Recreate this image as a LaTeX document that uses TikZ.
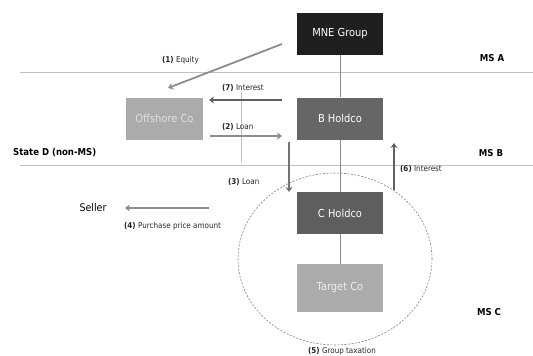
\documentclass[tikz,border=0pt]{standalone}
\usepackage{fontspec}
\setmainfont{DejaVu Sans Condensed}
\usetikzlibrary{arrows.meta,shapes.geometric}

\tikzset{
  entity/.style={minimum width=86pt, minimum height=42pt, inner sep=0pt, font=\fontsize{11}{13}\selectfont},
  flow/.style={-{Stealth[length=5pt,width=7pt,inset=1.5pt]}, line width=1.8pt},
  tag/.style={font=\fontsize{8}{9}\selectfont, text=black!85, inner sep=0pt},
  msname/.style={font=\bfseries\fontsize{9.5}{11}\selectfont, inner sep=0pt},
  border/.style={draw=black!25, line width=0.7pt},
  link/.style={draw=black!45, line width=0.7pt},
}

\begin{document}
\begin{tikzpicture}[x=1pt,y=-1pt]

\useasboundingbox (0,0) rectangle (533,356);

% borders between the states
\draw[border] (20,72) -- (533,72);
\draw[border] (20,165) -- (533,165);
\draw[border] (241,92) -- (241,162);

\node[msname] (msa) at (492,58) {MS A};
\node[msname] (msb) at (491,153) {MS B};
\node[msname] (msc) at (489,312) {MS C};
\node[msname, anchor=west] (stated) at (13,153) {State D (non-MS)};

% group taxation
\node[draw=black!50, dash pattern=on 2pt off 1.5pt, line width=0.6pt, ellipse, minimum width=194pt, minimum height=172pt] (grp) at (335,259) {};

% entities
\node[entity, fill=black!88, text=white] (mne) at (340,34) {MNE Group};
\node[entity, fill=black!60, text=white] (bhold) at (340,118.5) {B Holdco};
\node[entity, fill=black!33, text=black!12, minimum width=77pt] (off) at (164.5,118.5) {Offshore Co};
\node[entity, fill=black!63, text=white] (chold) at (340,213) {C Holdco};
\node[entity, fill=black!33, text=black!7, minimum height=48pt] (target) at (340,288) {Target Co};
\node[font=\fontsize{10.5}{12}\selectfont] (seller) at (93,208) {Seller};

\draw[link] (mne) -- (bhold);
\draw[link] (bhold) -- (chold);
\draw[link] (chold) -- (target);

% flows
\coordinate (eqa) at (282,44);
\coordinate (eqb) at (168,88);
\coordinate (inta) at (282,100);
\coordinate (intb) at (209,100);
\coordinate (loana) at (210,136);
\coordinate (loanb) at (282,136);
\coordinate (loanc) at (289,142);
\coordinate (loand) at (289,192);
\coordinate (intc) at (394,190);
\coordinate (intd) at (394,143);
\coordinate (paya) at (209,208);
\coordinate (payb) at (125,208);

\draw[flow, draw=black!45] (eqa) -- (eqb);
\draw[flow, draw=black!62] (inta) -- (intb);
\draw[flow, draw=black!45] (loana) -- (loanb);
\draw[flow, draw=black!55] (loanc) -- (loand);
\draw[flow, draw=black!62] (intc) -- (intd);
\draw[flow, draw=black!45] (paya) -- (payb);

\node[tag, anchor=west] (l1) at (162,60) {\textbf{(1)} Equity};
\node[tag, anchor=west] (l7) at (222,88) {\textbf{(7)} Interest};
\node[tag, anchor=west] (l2) at (222,127) {\textbf{(2)} Loan};
\node[tag, anchor=west] (l3) at (228,182) {\textbf{(3)} Loan};
\node[tag, anchor=west] (l6) at (400,169) {\textbf{(6)} Interest};
\node[tag, anchor=west] (l4) at (124,226) {\textbf{(4)} Purchase price amount};
\node[tag] (l5) at (342,351) {\textbf{(5)} Group taxation};

\end{tikzpicture}
\end{document}
